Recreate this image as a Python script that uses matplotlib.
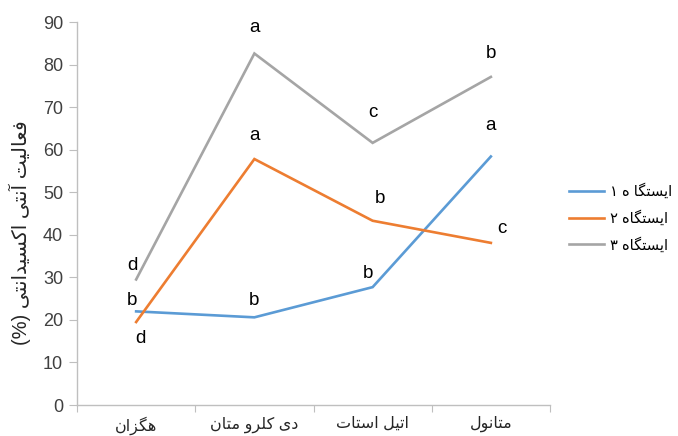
import matplotlib
matplotlib.use("Agg")
import matplotlib.pyplot as plt

plt.rcParams['font.family'] = ['Liberation Sans', 'DejaVu Sans']

# داده ها
categories = ["هگزان", "دی کلرو متان", "اتیل استات", "متانول"]
series_names = ["ایستگا ه ۱", "ایستگاه ۲", "ایستگاه ۳"]
station1 = [22.0, 20.6, 27.7, 58.4]
station2 = [19.5, 57.8, 43.3, 38.1]
station3 = [29.5, 82.6, 61.6, 77.1]
letters1 = ["b", "b", "b", "a"]
letters2 = ["d", "a", "b", "c"]
letters3 = ["d", "a", "c", "b"]
y_title = "فعالیت آنتی اکسیدانتی (%)"

colors = ["#5B9BD5", "#ED7D31", "#A5A5A5"]
# جای حروف نسبت به نقطه (پیکسل)
offsets1 = [(-3, 8), (0, 12), (-3, 10), (0, 22)]
offsets2 = [(3, -12), (0, 17), (5, 16), (8, 10)]
offsets3 = [(-3, 10), (0, 19), (0, 22), (0, 17)]

# شکل دادن حروف فارسی (matplotlib خودش این کار را نمی کند)
FORMS = {
    'ا': ('\uFE8D', '\uFE8E', None, None),
    'آ': ('\uFE81', '\uFE82', None, None),
    'ت': ('\uFE95', '\uFE96', '\uFE97', '\uFE98'),
    'د': ('\uFEA9', '\uFEAA', None, None),
    'ر': ('\uFEAD', '\uFEAE', None, None),
    'ز': ('\uFEAF', '\uFEB0', None, None),
    'س': ('\uFEB1', '\uFEB2', '\uFEB3', '\uFEB4'),
    'ع': ('\uFEC9', '\uFECA', '\uFECB', '\uFECC'),
    'ف': ('\uFED1', '\uFED2', '\uFED3', '\uFED4'),
    'ل': ('\uFEDD', '\uFEDE', '\uFEDF', '\uFEE0'),
    'م': ('\uFEE1', '\uFEE2', '\uFEE3', '\uFEE4'),
    'ن': ('\uFEE5', '\uFEE6', '\uFEE7', '\uFEE8'),
    'ه': ('\uFEE9', '\uFEEA', '\uFEEB', '\uFEEC'),
    'و': ('\uFEED', '\uFEEE', None, None),
    'ک': ('\uFB8E', '\uFB8F', '\uFB90', '\uFB91'),
    'گ': ('\uFB92', '\uFB93', '\uFB94', '\uFB95'),
    'ی': ('\uFBFC', '\uFBFD', '\uFBFE', '\uFBFF'),
}
MIRROR = {'(': ')', ')': '('}


def fa(text):
    out = []
    for i, ch in enumerate(text):
        if ch not in FORMS:
            out.append(MIRROR.get(ch, ch))
            continue
        f = FORMS[ch]
        prev = text[i - 1] if i > 0 else ''
        nxt = text[i + 1] if i + 1 < len(text) else ''
        jp = prev in FORMS and FORMS[prev][2] is not None
        jn = nxt in FORMS and f[2] is not None
        if jp and jn:
            out.append(f[3])
        elif jp:
            out.append(f[1])
        elif jn:
            out.append(f[2])
        else:
            out.append(f[0])
    return ''.join(reversed(out))


fig = plt.figure(figsize=(6.78, 4.36), dpi=100)
ax = fig.add_axes([0.1136, 0.0711, 0.6976, 0.8784])

x = [i + 0.5 for i in range(len(categories))]
all_series = [station1, station2, station3]
all_letters = [letters1, letters2, letters3]
all_offsets = [offsets1, offsets2, offsets3]

for vals, name, c in zip(all_series, series_names, colors):
    ax.plot(x, vals, color=c, lw=1.9, label=fa(name), solid_joinstyle='miter')

for vals, lets, offs in zip(all_series, all_letters, all_offsets):
    for xi, v, l, o in zip(x, vals, lets, offs):
        ax.annotate(l, (xi, v), xytext=o, textcoords='offset points',
                    ha='center', va='center', fontsize=13.5, color='#000000')

ax.set_xlim(0, 4)
ax.set_ylim(0, 90)
ax.set_yticks(range(0, 91, 10))
ax.set_xticks(range(5))
ax.set_xticklabels([])
ax.set_xticks(x, minor=True)
ax.set_xticklabels([fa(c) for c in categories], minor=True, fontsize=11.5)
ax.tick_params(axis='x', which='major', length=5, color='#BFBFBF', direction='out')
ax.tick_params(axis='x', which='minor', length=0, pad=8, labelcolor='#262626')
ax.tick_params(axis='y', length=6, color='#BFBFBF', labelsize=13, labelcolor='#404040', pad=4)

for s in ['top', 'right']:
    ax.spines[s].set_visible(False)
for s in ['left', 'bottom']:
    ax.spines[s].set_color('#BFBFBF')
    ax.spines[s].set_linewidth(1.0)

ax.set_ylabel(fa(y_title), fontsize=14.5, color='#262626')
ax.yaxis.set_label_coords(-0.097, 0.45)

fig.legend(loc='center left', bbox_to_anchor=(0.82, 0.5), frameon=False,
           fontsize=10.5, handlelength=2.4, labelspacing=0.75, handletextpad=0.4)

fig.savefig("out.png", dpi=100)
